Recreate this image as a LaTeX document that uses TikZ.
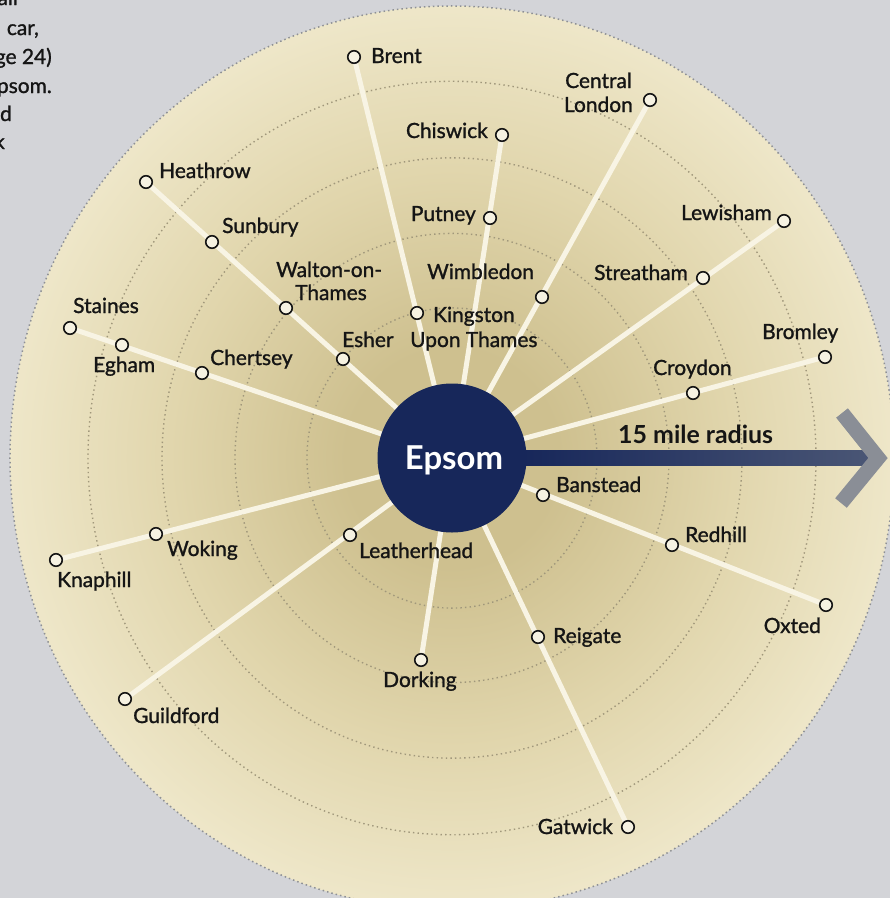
\documentclass[tikz,border=0pt]{standalone}
\usepackage{fontspec}
\setmainfont{Lato}
\newfontfamily\labfont{Lato}[FakeBold=1.2]
\usetikzlibrary{calc}
\definecolor{bggrey}{HTML}{D3D4D8}
\definecolor{diskin}{HTML}{CEC08F}
\definecolor{diskmid}{HTML}{E1D6AD}
\definecolor{diskout}{HTML}{F4EED5}
\definecolor{raycol}{HTML}{F8F4E4}
\definecolor{ringcol}{HTML}{A0977B}
\definecolor{edgecol}{HTML}{8E9095}
\definecolor{navy}{HTML}{17275A}
\definecolor{barend}{HTML}{4A5675}
\definecolor{chevcol}{HTML}{8A8E96}
\definecolor{markfill}{HTML}{F6F2E2}
\definecolor{inkcol}{HTML}{151515}
\pgfdeclarelayer{back}
\pgfdeclarelayer{mid}
\pgfsetlayers{back,mid,main}
\pgfdeclareradialshading{diskshade}{\pgfpoint{0bp}{0bp}}{color(0bp)=(diskin); color(6bp)=(diskin); color(16bp)=(diskmid); color(29bp)=(diskout); color(50bp)=(diskout)}
\tikzset{
  lab/.style={font=\labfont\fontsize{21}{24}\selectfont, inner sep=0pt, text=inkcol},
  mk/.style={circle, draw=inkcol, line width=1.6bp, fill=markfill, minimum size=12.5bp, inner sep=0pt},
  ray/.style={draw=raycol, line width=5bp},
  ring/.style={draw=ringcol, line width=1.4bp, dash pattern=on 1.4bp off 3.2bp},
}
\begin{document}
\begin{tikzpicture}[x=1bp,y=-1bp]
\useasboundingbox (0,0) rectangle (890,898);
\clip (0,0) rectangle (890,898);
% centre
\node[circle, fill=navy, minimum size=149bp, inner sep=0pt] (e) at (452,458) {};
\node[font=\fontsize{33}{36}\selectfont\bfseries, text=white, inner sep=0pt, anchor=base] (epsomlab) at (454,469) {Epsom};
% markers
\node[mk] (brent) at (354,57) {};
\node[mk] (clondon) at (650,100) {};
\node[mk] (chiswick) at (502,135) {};
\node[mk] (heathrow) at (146,182) {};
\node[mk] (sunbury) at (212,242) {};
\node[mk] (putney) at (490,218) {};
\node[mk] (lewisham) at (784,221) {};
\node[mk] (walton) at (286,308) {};
\node[mk] (wimbledon) at (542,297) {};
\node[mk] (streatham) at (703,278) {};
\node[mk] (staines) at (70,328) {};
\node[mk] (egham) at (122,345) {};
\node[mk] (chertsey) at (202,373) {};
\node[mk] (esher) at (343,359) {};
\node[mk] (kingston) at (417,313) {};
\node[mk] (bromley) at (825,357) {};
\node[mk] (croydon) at (693,393) {};
\node[mk] (banstead) at (543,495) {};
\node[mk] (redhill) at (672,545) {};
\node[mk] (oxted) at (826,605) {};
\node[mk] (woking) at (156,534) {};
\node[mk] (knaphill) at (56,560) {};
\node[mk] (leatherhead) at (350,535) {};
\node[mk] (reigate) at (538,637) {};
\node[mk] (dorking) at (421,660) {};
\node[mk] (guildford) at (125,699) {};
\node[mk] (gatwick) at (628,827) {};
% background layers
\begin{pgfonlayer}{back}
  \fill[bggrey] (0,0) rectangle (890,898);
  \shade[shading=diskshade] (e.center) ellipse[x radius=442bp, y radius=452bp];
  \foreach \r in {145,217,290,364} {\draw[ring] (e.center) ellipse[x radius=\r bp, y radius=1.035*\r bp];}
  \draw[draw=edgecol, line width=1.5bp, dash pattern=on 1.5bp off 3bp] (e.center) ellipse[x radius=442bp, y radius=452bp];
\end{pgfonlayer}
\begin{pgfonlayer}{mid}
  \foreach \p in {brent,chiswick,clondon,lewisham,bromley,heathrow,staines,knaphill,guildford,dorking,gatwick,oxted}
    {\draw[ray] (e.center) -- (\p.center);}
\end{pgfonlayer}
% radius arrow
\coordinate (barend) at (870,458);
\shade[left color=navy, right color=barend] ($(e.east)+(-4,-7.5)$) rectangle ($(barend)+(0,7.5)$);
\coordinate (chevtop) at (842,413);
\coordinate (chevtip) at (878,458);
\coordinate (chevbot) at (841,503);
\draw[chevcol, line width=15bp, miter limit=10] (chevtop) -- (chevtip) -- (chevbot);
\node[lab, font=\fontsize{25}{28}\selectfont\bfseries, anchor=base west] (radlab) at (618,443) {15 mile radius};
% labels
\node[lab, anchor=base west] (brentlab) at (371,63) {Brent};
\node[lab, anchor=base east] (clondonlab1) at (632,88) {Central};
\node[lab, anchor=base east] (clondonlab2) at (633,112) {London};
\node[lab, anchor=base east] (chiswicklab) at (488,138) {Chiswick};
\node[lab, anchor=base west] (heathrowlab) at (159,178) {Heathrow};
\node[lab, anchor=base west] (sunburylab) at (222,233) {Sunbury};
\node[lab, anchor=base east] (putneylab) at (476,221) {Putney};
\node[lab, anchor=base east] (lewishamlab) at (772,220) {Lewisham};
\node[lab, anchor=base west] (waltonlab1) at (276,277) {Walton-on-};
\node[lab, anchor=base west] (waltonlab2) at (295,300) {Thames};
\node[lab, anchor=base west] (wimbledonlab) at (427,279) {Wimbledon};
\node[lab, anchor=base east] (streathamlab) at (688,280) {Streatham};
\node[lab, anchor=base west] (staineslab) at (73,313) {Staines};
\node[lab, anchor=base west] (eghamlab) at (93,372) {Egham};
\node[lab, anchor=base west] (chertseylab) at (210,365) {Chertsey};
\node[lab, anchor=base west] (esherlab) at (342,347) {Esher};
\node[lab, anchor=base west] (kingstonlab1) at (433,322) {Kingston};
\node[lab, anchor=base west] (kingstonlab2) at (410,347) {Upon Thames};
\node[lab, anchor=base west] (bromleylab) at (762,339) {Bromley};
\node[lab, anchor=base west] (croydonlab) at (653,375) {Croydon};
\node[lab, anchor=base west] (bansteadlab) at (556,492) {Banstead};
\node[lab, anchor=base west] (redhilllab) at (685,542) {Redhill};
\node[lab, anchor=base east] (oxtedlab) at (821,633) {Oxted};
\node[lab, anchor=base west] (wokinglab) at (167,556) {Woking};
\node[lab, anchor=base west] (knaphilllab) at (57,587) {Knaphill};
\node[lab, anchor=base west] (leatherheadlab) at (359,558) {Leatherhead};
\node[lab, anchor=base west] (reigatelab) at (553,643) {Reigate};
\node[lab, anchor=base west] (dorkinglab) at (383,687) {Dorking};
\node[lab, anchor=base west] (guildfordlab) at (133,723) {Guildford};
\node[lab, anchor=base east] (gatwicklab) at (613,834) {Gatwick};
% cut-off page text
\node[lab, anchor=base east] (t1) at (18,5) {all};
\node[lab, anchor=base east] (t2) at (39,35) {car,};
\node[lab, anchor=base east] (t3) at (52,64) {ge 24)};
\node[lab, anchor=base east] (t4) at (52,93) {psom.};
\node[lab, anchor=base east] (t5) at (12,121) {d};
\node[lab, anchor=base east] (t6) at (5,149) {k};
\end{tikzpicture}
\end{document}
